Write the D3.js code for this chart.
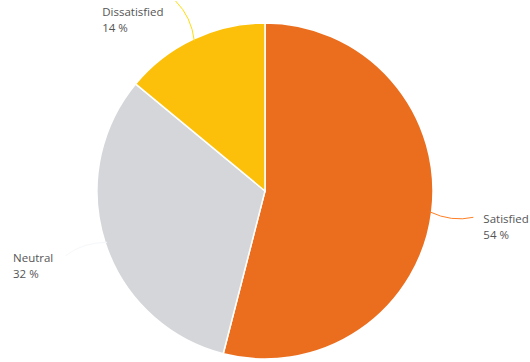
<!DOCTYPE html>
<html>
<head>
<meta charset="utf-8">
<script src="https://cdn.jsdelivr.net/npm/d3@7"></script>
<style>
  body { margin: 0; background: #fff; }
  text { font-family: "Open Sans", sans-serif; font-size: 11.5px; fill: #555; }
</style>
</head>
<body>
<div id="chart"></div>
<script>
// data
var categories = ["Satisfied", "Neutral", "Dissatisfied"];
var values = [54, 32, 14];
var colors = ["#eb6e1f", "#d4d6d9", "#fcc00a"];

var width = 530, height = 362,
    cx = 265, cy = 191,
    radius = 168, labelRadius = 210;

var svg = d3.select('#chart').append('svg')
    .attr('width', width)
    .attr('height', height);

var g = svg.append('g')
    .attr('transform', 'translate(' + cx + ',' + cy + ')');

var data = categories.map(function(c, i) {
  return {name: c, value: values[i], color: colors[i]};
});

var pie = d3.pie()
    .sort(null)
    .value(function(d) { return d.value; });

var arc = d3.arc()
    .innerRadius(0)
    .outerRadius(radius);

var arcs = pie(data);

//slices
g.selectAll('path.slice').data(arcs)
  .enter().append('path')
    .attr('class', 'slice')
    .attr('d', arc)
    .attr('fill', function(d) { return d.data.color; })
    .style('stroke', '#fff')
    .style('stroke-width', 1.5);

//helper: point at angle a (from top, clockwise) and radius r
function pt(a, r) {
  return [r * Math.sin(a), -r * Math.cos(a)];
}

//connectors and labels
arcs.forEach(function(d) {
  var mid = (d.startAngle + d.endAngle) / 2;
  var p0 = pt(mid, radius - 2);
  var p1 = pt(mid, labelRadius);
  var c = pt(mid + 0.04, (radius + labelRadius) / 2);
  var right = Math.sin(mid) > 0;

  g.append('path')
      .attr('d', 'M' + p0 + 'Q' + c + ' ' + p1)
      .attr('fill', 'none')
      .attr('stroke', d3.color(d.data.color).brighter(0.4))
      .attr('stroke-width', 1);

  var lab = g.append('text');
  lab.append('tspan').attr('x', 0).attr('dy', 0).text(d.data.name);
  lab.append('tspan').attr('x', 0).attr('dy', 16).text(d.data.value + ' %');

  var w = lab.node().getBBox().width;
  var tx = right ? p1[0] + 10 : p1[0] - 12 - w;
  var ty = Math.max(p1[1] + 6, 16 - cy);
  lab.attr('transform', 'translate(' + tx + ',' + ty + ')');
});
</script>
</body>
</html>
